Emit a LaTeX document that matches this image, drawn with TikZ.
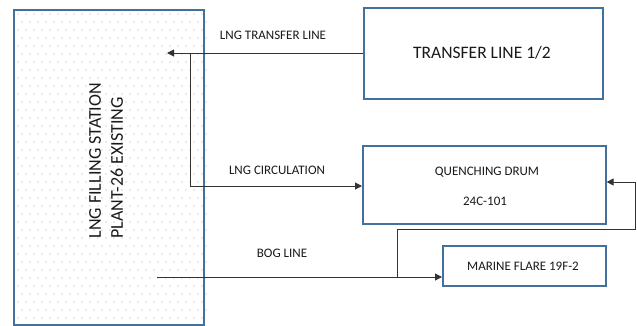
\documentclass[tikz,border=0pt]{standalone}
\usepackage{fontspec}
\setmainfont{Carlito}
\usetikzlibrary{arrows.meta}
\definecolor{boxblue}{HTML}{41719C}
\definecolor{linegray}{HTML}{333333}
\definecolor{dotgray}{HTML}{A8A8A8}
\begin{document}
\begin{tikzpicture}[x=1pt,y=-1pt,
  block/.style={draw=boxblue,line width=1.6pt,fill=white,inner sep=0pt},
  lbl/.style={font=\fontsize{13}{15}\selectfont,text=black!90,inner sep=0pt},
  flow/.style={draw=linegray,line width=1pt},
  tip/.style={-{Triangle[length=7pt,width=7pt]}}]
\useasboundingbox (0,0) rectangle (637,325);
% left station box
\fill[white] (13,9) rectangle (203,324);
\foreach \i in {0,...,23}{
  \foreach \j in {0,...,38}{
    \pgfmathsetmacro{\xx}{18+8*\i+mod(\j,2)*4}
    \pgfmathsetmacro{\yy}{14+8*\j}
    \fill[dotgray] (\xx,\yy) circle (0.6);
  }
}
\node[draw=boxblue,line width=1.6pt,minimum width=190pt,minimum height=315pt,inner sep=0pt,anchor=north west] (st) at (13,9) {};
\node[rotate=90,align=left,font=\fontsize{18}{22}\selectfont,text=black!90,anchor=west] (sttext) at (106,242) {LNG FILLING STATION\\PLANT-26 EXISTING};
% right boxes
\node[block,minimum width=239pt,minimum height=91pt,anchor=north west] (tl) at (363,7) {};
\node[font=\fontsize{17.5}{20}\selectfont,text=black!90] (tltext) at (482,53) {TRANSFER LINE 1/2};
\node[block,minimum width=243pt,minimum height=78pt,anchor=north west] (qd) at (362,145) {};
\node[lbl] (qdt1) at (487,172) {QUENCHING DRUM};
\node[lbl] (qdt2) at (485,201) {24C-101};
\node[block,minimum width=163pt,minimum height=40pt,anchor=north west] (mf) at (442,245) {};
\node[lbl] (mft) at (523,266) {MARINE FLARE 19F-2};
% line labels
\node[lbl] (l1) at (273,35) {LNG TRANSFER LINE};
\node[lbl] (l2) at (277,170) {LNG CIRCULATION};
\node[lbl] (l3) at (282,253) {BOG LINE};
% connector coordinates
\coordinate (inlet) at (167,53);
\coordinate (j1) at (190,53);
\coordinate (bogs) at (157,277);
\coordinate (j2) at (397,277);
\coordinate (c1) at (635,229);
\coordinate (c2) at (635,182);
% connectors
\draw[flow,tip] (tl.west |- inlet) -- (inlet);
\draw[flow,tip] (j1) |- (qd.west |- 0,186);
\draw[flow,tip] (bogs) -- (mf.west |- bogs);
\draw[flow,tip] (j2) |- (c1) -- (c2) -- (qd.east |- c2);
\end{tikzpicture}
\end{document}
